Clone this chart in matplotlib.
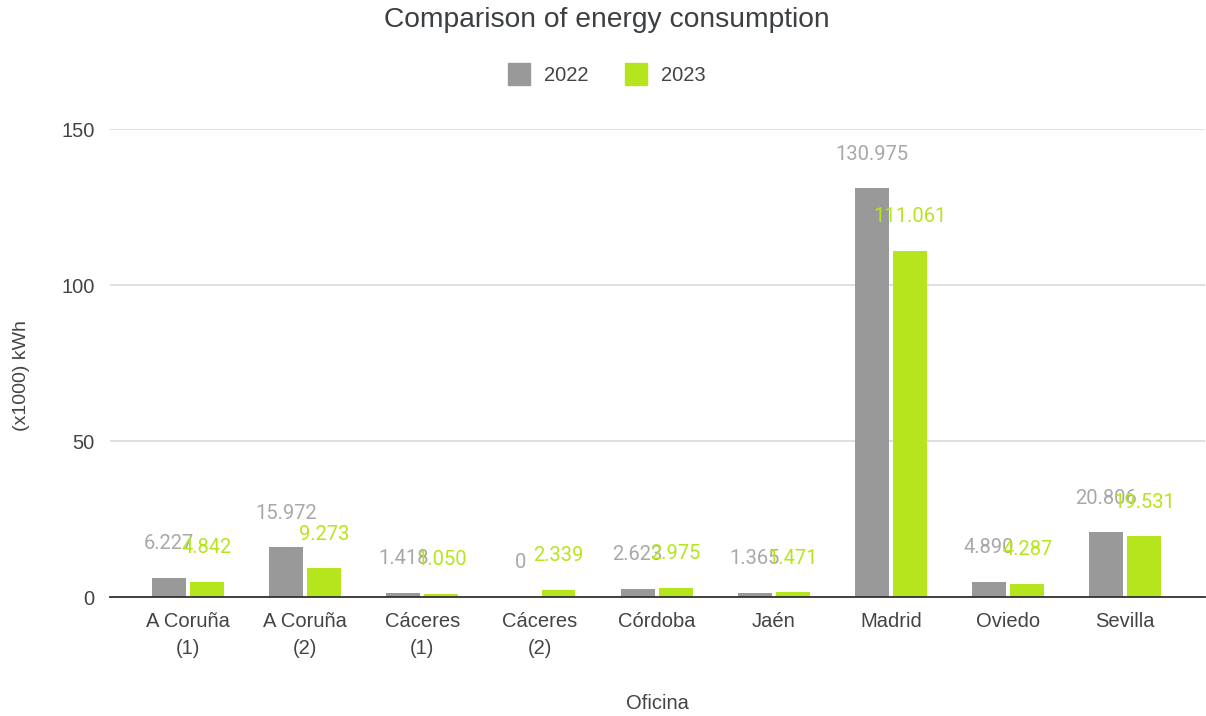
import numpy as np
import matplotlib.pyplot as plt
from matplotlib.lines import Line2D

plt.rcParams['font.family'] = ['Liberation Sans', 'DejaVu Sans']

# Consumo por oficina, en miles de kWh
oficinas = ["A Coruña\n(1)", "A Coruña\n(2)", "Cáceres\n(1)", "Cáceres\n(2)",
            "Córdoba", "Jaén", "Madrid", "Oviedo", "Sevilla"]
consumo_2022 = [6.227, 15.972, 1.418, 0, 2.623, 1.365, 130.975, 4.890, 20.806]
consumo_2023 = [4.842, 9.273, 1.050, 2.339, 2.975, 1.471, 111.061, 4.287, 19.531]
etiquetas_2022 = ["6.227", "15.972", "1.418", "0", "2.623", "1.365", "130.975", "4.890", "20.806"]
etiquetas_2023 = ["4.842", "9.273", "1.050", "2.339", "2.975", "1.471", "111.061", "4.287", "19.531"]

gris = "#999999"
verde = "#b5e61d"
texto = "#444444"

fig = plt.figure(figsize=(12.06, 7.16), dpi=100)
ax = fig.add_axes([0.0912, 0.1662, 0.908, 0.6536])

x = np.arange(len(oficinas))
ancho = 0.29
desp = 0.162

b1 = ax.bar(x - desp, consumo_2022, ancho, color=gris, zorder=3)
b2 = ax.bar(x + desp, consumo_2023, ancho, color=verde, zorder=3)

# etiquetas de valor encima de cada barra
for barras, etiquetas, col in [(b1, etiquetas_2022, "#a8a8a8"), (b2, etiquetas_2023, verde)]:
    for b, et in zip(barras, etiquetas):
        ax.annotate(et, (b.get_x() + b.get_width() / 2, b.get_height()),
                    xytext=(0, 24.5), textcoords="offset points",
                    ha="center", va="center", fontsize=14.5, color=col, zorder=4,
                    family="Roboto")

ax.set_xlim(-0.666, 8.68)
ax.set_ylim(0, 150)
ax.set_yticks([0, 50, 100, 150])
ax.set_xticks(x)
ax.set_xticklabels(oficinas, fontsize=14.5, color=texto, linespacing=1.5)
ax.tick_params(axis="y", labelsize=14.5, labelcolor=texto, length=0, pad=11)
ax.tick_params(axis="x", length=0, pad=11)

ax.grid(axis="y", color="#d9d9d9", linewidth=1.2, zorder=0)
for s in ["top", "right", "left"]:
    ax.spines[s].set_visible(False)
ax.spines["bottom"].set_color("#333333")
ax.spines["bottom"].set_linewidth(1.3)
ax.spines["bottom"].set_zorder(5)

fig.text(0.503, 0.972, "Comparison of energy consumption", ha="center", va="center",
         fontsize=20.3, color="#3c4043")
fig.text(0.545, 0.018, "Oficina", ha="center", va="center", fontsize=14.5, color=texto)
fig.text(0.0175, 0.476, "(x1000) kWh", ha="center", va="center", rotation=90,
         fontsize=14, color=texto)

handles = [Line2D([], [], marker="s", linestyle="none", markersize=16, color=gris),
           Line2D([], [], marker="s", linestyle="none", markersize=16, color=verde)]
fig.legend(handles, ["2022", "2023"], loc="center", bbox_to_anchor=(0.503, 0.895), ncol=2,
           frameon=False, fontsize=14.5, labelcolor=texto, handletextpad=0.65,
           columnspacing=1.75, handlelength=1.2)

fig.savefig("out.png", dpi=100)
